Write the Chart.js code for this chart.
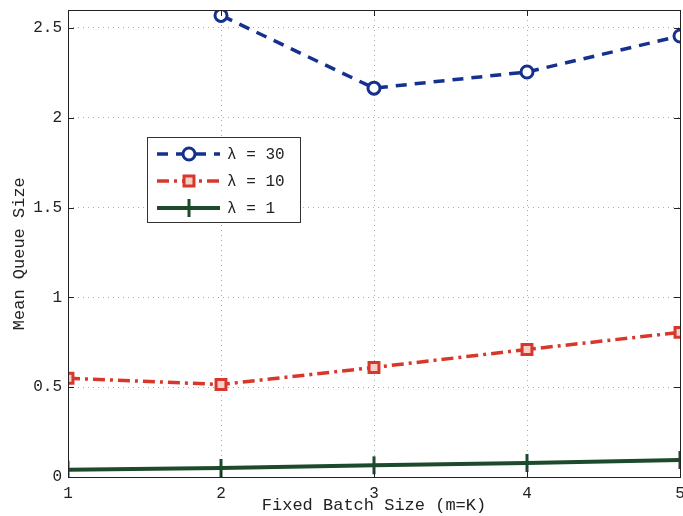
<!DOCTYPE html>
<html>
<head>
<meta charset="utf-8">
<script src="https://cdn.jsdelivr.net/npm/chart.js@4"></script>
<style>
  html, body { margin: 0; padding: 0; background: #fff; }
  #wrap { width: 683px; height: 516px; position: relative; }
</style>
</head>
<body>
<div id="wrap"><canvas id="queueChart"></canvas></div>
<script>
/* =========================================================
   DATA
========================================================= */
const batchSizes = [1, 2, 3, 4, 5];
const lambda30 = [3.9, 2.57, 2.165, 2.255, 2.455];
const lambda10 = [0.55, 0.515, 0.61, 0.71, 0.805];
const lambda1 = [0.04, 0.05, 0.065, 0.078, 0.094];
const seriesLabels = ["λ = 30", "λ = 10", "λ = 1"];
const yTicks = [0, 0.5, 1, 1.5, 2, 2.5];
const xTicks = [1, 2, 3, 4, 5];

const MONO = "'Liberation Mono', 'DejaVu Sans Mono', monospace";

function toPoints(values) {
  return batchSizes.map((x, i) => ({ x, y: values[i] }));
}

/* =========================================================
   FRAME + INNER TICKS + LEGEND BOX
========================================================= */
const framePlugin = {
  id: "frame",
  afterDraw(chart) {
    const { ctx, chartArea: a, scales } = chart;
    ctx.save();
    ctx.strokeStyle = "#222";
    ctx.lineWidth = 1;
    ctx.strokeRect(a.left + 0.5, a.top + 0.5, a.right - a.left, a.bottom - a.top);

    ctx.beginPath();
    yTicks.forEach(v => {
      const y = Math.round(scales.y.getPixelForValue(v)) + 0.5;
      ctx.moveTo(a.left, y); ctx.lineTo(a.left + 6, y);
      ctx.moveTo(a.right, y); ctx.lineTo(a.right - 6, y);
    });
    xTicks.forEach(v => {
      const x = Math.round(scales.x.getPixelForValue(v)) + 0.5;
      ctx.moveTo(x, a.bottom); ctx.lineTo(x, a.bottom - 6);
      ctx.moveTo(x, a.top); ctx.lineTo(x, a.top + 6);
    });
    ctx.stroke();

    // legend box
    const bx = 147, by = 137, bw = 153, bh = 85;
    ctx.fillStyle = "#fff";
    ctx.fillRect(bx, by, bw, bh);
    ctx.strokeStyle = "#333";
    ctx.strokeRect(bx + 0.5, by + 0.5, bw, bh);

    chart.data.datasets.forEach((ds, i) => {
      const y = by + 17 + i * 27;
      ctx.save();
      ctx.strokeStyle = ds.borderColor;
      ctx.lineWidth = ds.borderWidth;
      ctx.setLineDash(ds.borderDash || []);
      ctx.beginPath();
      ctx.moveTo(bx + 10, y);
      ctx.lineTo(bx + 73, y);
      ctx.stroke();
      ctx.setLineDash([]);
      // marker
      const mx = bx + 42;
      ctx.lineWidth = ds.pointBorderWidth;
      ctx.strokeStyle = ds.pointBorderColor;
      ctx.fillStyle = ds.pointBackgroundColor;
      ctx.beginPath();
      if (ds.pointStyle === "circle") {
        ctx.arc(mx, y, ds.pointRadius, 0, Math.PI * 2);
        ctx.fill(); ctx.stroke();
      } else if (ds.pointStyle === "rect") {
        const r = ds.pointRadius * 0.71;
        ctx.rect(mx - r, y - r, r * 2, r * 2);
        ctx.fill(); ctx.stroke();
      } else {
        ctx.moveTo(mx, y - ds.pointRadius); ctx.lineTo(mx, y + ds.pointRadius);
        ctx.stroke();
      }
      ctx.restore();

      ctx.fillStyle = "#222";
      ctx.font = "16px " + MONO;
      ctx.textBaseline = "middle";
      ctx.fillText(ds.label, bx + 80, y + 1);
    });
    ctx.restore();
  }
};

/* =========================================================
   CHART
========================================================= */
new Chart(document.getElementById("queueChart"), {
  type: "line",
  data: {
    datasets: [
      {
        label: seriesLabels[0],
        data: toPoints(lambda30),
        borderColor: "#15318f",
        borderWidth: 3.5,
        borderDash: [11, 8],
        pointStyle: "circle",
        pointRadius: 6,
        pointBorderWidth: 3,
        pointBorderColor: "#15318f",
        pointBackgroundColor: "#fff"
      },
      {
        label: seriesLabels[1],
        data: toPoints(lambda10),
        borderColor: "#d8382c",
        borderWidth: 3.5,
        borderDash: [12, 5, 3, 5],
        pointStyle: "rect",
        pointRadius: 7,
        pointBorderWidth: 3,
        pointBorderColor: "#d8382c",
        pointBackgroundColor: "#f5d0c8"
      },
      {
        label: seriesLabels[2],
        data: toPoints(lambda1),
        borderColor: "#1c4a2a",
        borderWidth: 4,
        pointStyle: "line",
        rotation: 90,
        pointRadius: 9,
        pointBorderWidth: 3,
        pointBorderColor: "#1c4a2a",
        pointBackgroundColor: "#1c4a2a"
      }
    ]
  },
  options: {
    responsive: true,
    maintainAspectRatio: false,
    animation: false,
    layout: { autoPadding: false, padding: { top: 10, right: 3 } },
    plugins: {
      legend: { display: false },
      tooltip: { enabled: false }
    },
    scales: {
      x: {
        type: "linear",
        min: 1,
        max: 5,
        afterBuildTicks: s => { s.ticks = xTicks.map(v => ({ value: v })); },
        afterFit: s => { s.height = 39; s.paddingRight = 0; s.paddingLeft = 0; },
        grid: { color: "#aaa", drawTicks: false },
        border: { display: false, dash: [1, 4] },
        ticks: {
          color: "#222",
          padding: 7,
          font: { family: MONO, size: 16 },
          maxRotation: 0
        },
        title: {
          display: true,
          text: "Fixed Batch Size (m=K)",
          color: "#222",
          font: { family: MONO, size: 17 },
          padding: { top: 0, bottom: 0 }
        }
      },
      y: {
        min: 0,
        max: 2.6,
        afterBuildTicks: s => { s.ticks = yTicks.map(v => ({ value: v })); },
        afterFit: s => { s.width = 68; s.paddingTop = 0; s.paddingBottom = 0; },
        grid: { color: "#aaa", drawTicks: false },
        border: { display: false, dash: [1, 4] },
        ticks: {
          color: "#222",
          padding: 6,
          font: { family: MONO, size: 16 },
          callback: v => String(v)
        },
        title: {
          display: true,
          text: "Mean Queue Size  ",
          color: "#222",
          font: { family: MONO, size: 17 },
          padding: { top: 9, bottom: 0 }
        }
      }
    }
  },
  plugins: [framePlugin]
});
</script>
</body>
</html>
